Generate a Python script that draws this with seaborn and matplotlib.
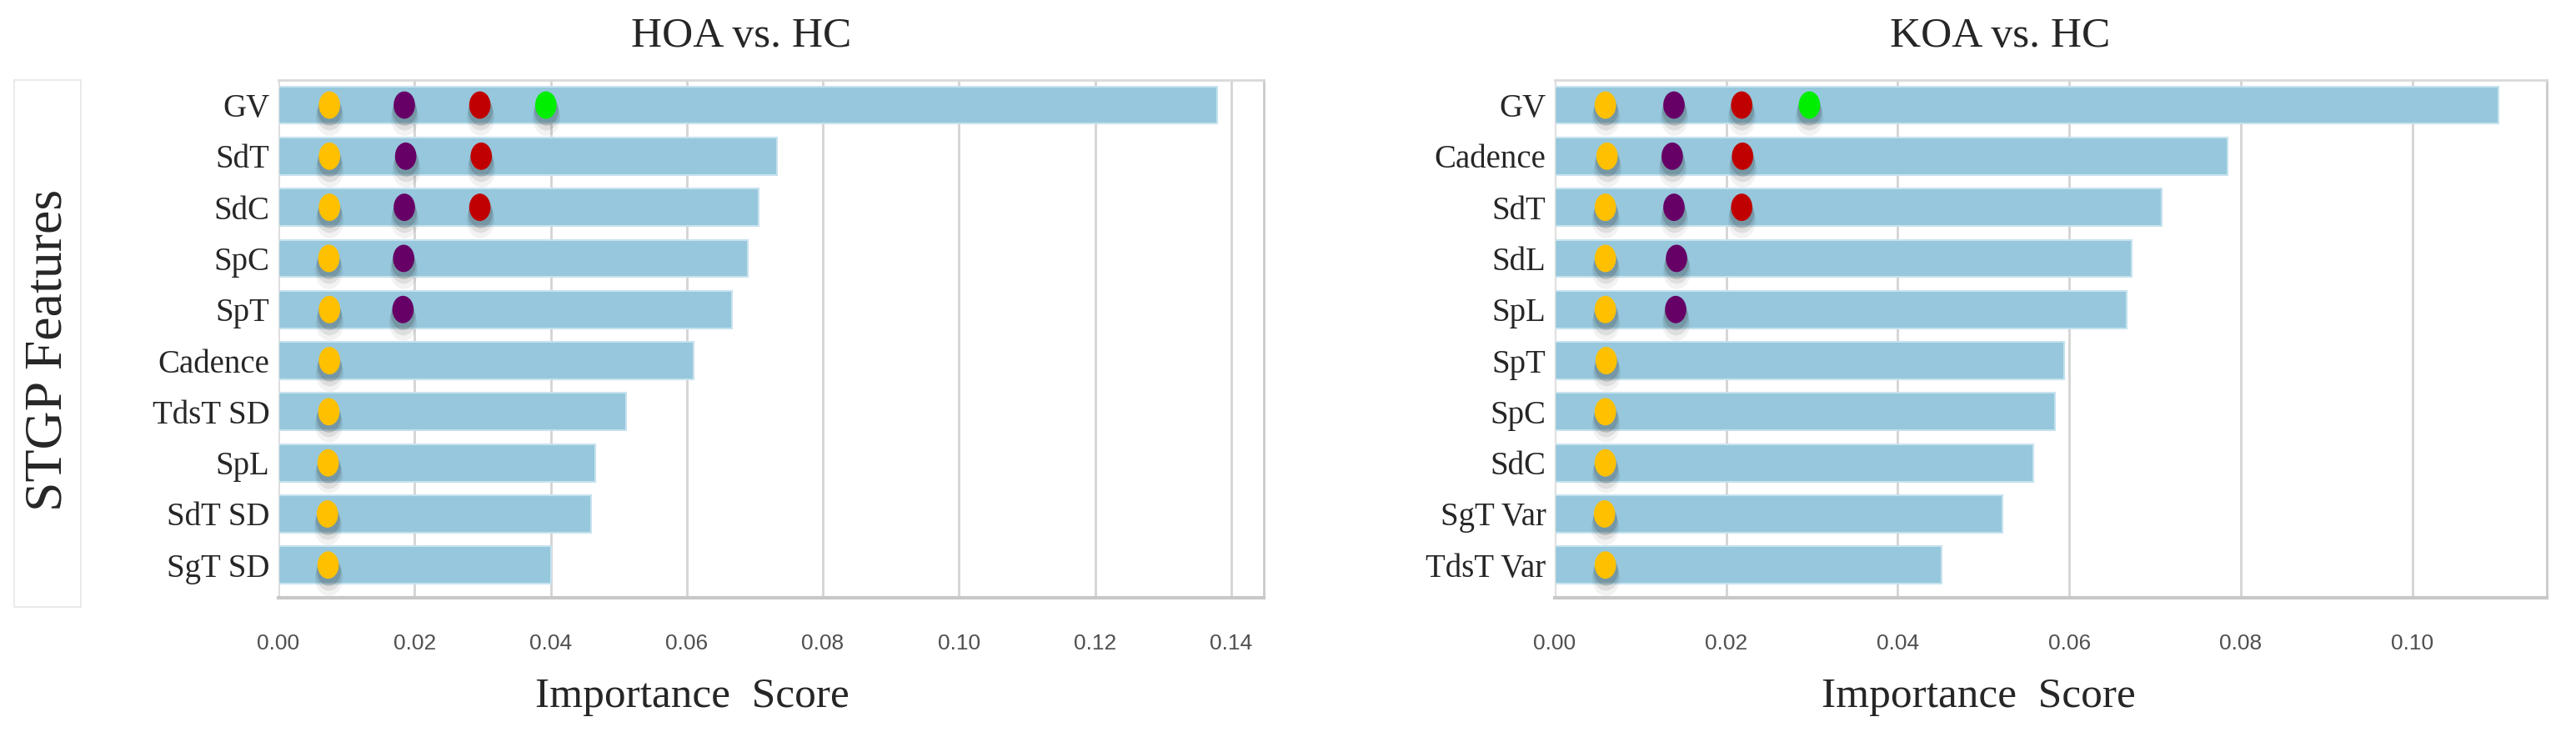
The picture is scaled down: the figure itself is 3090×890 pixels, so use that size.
"""Feature importance bars for HOA vs. HC and KOA vs. HC, with marker dots per feature."""

import matplotlib
matplotlib.use("Agg")
import matplotlib.pyplot as plt
import numpy as np
import pandas as pd
import seaborn as sns
from matplotlib import font_manager
from matplotlib.patches import Rectangle
from matplotlib.path import Path
from matplotlib.transforms import Affine2D

# ---- data -------------------------------------------------------------
HOA_FEATURES = ["GV", "SdT", "SdC", "SpC", "SpT", "Cadence", "TdsT SD", "SpL", "SdT SD", "SgT SD"]
HOA_SCORES = [0.138, 0.0732, 0.0706, 0.0690, 0.0667, 0.0610, 0.0511, 0.0465, 0.0460, 0.0400]

KOA_FEATURES = ["GV", "Cadence", "SdT", "SdL", "SpL", "SpT", "SpC", "SdC", "SgT Var", "TdsT Var"]
KOA_SCORES = [0.1101, 0.0785, 0.0708, 0.0673, 0.0667, 0.0594, 0.0583, 0.0558, 0.0522, 0.0451]

# dots: feature, x position, dot group
HOA_DOT_FEATURE = (HOA_FEATURES
                   + ["GV", "SdT", "SdC", "SpC", "SpT"]
                   + ["GV", "SdT", "SdC"]
                   + ["GV"])
HOA_DOT_X = ([0.0075, 0.0075, 0.0075, 0.0074, 0.0075, 0.0075, 0.0074, 0.0073, 0.0072, 0.0073]
             + [0.0185, 0.0187, 0.0185, 0.0184, 0.0183]
             + [0.0296, 0.0298, 0.0296]
             + [0.0393])
HOA_DOT_GROUP = ["1"] * 10 + ["2"] * 5 + ["3"] * 3 + ["4"]

KOA_DOT_FEATURE = (KOA_FEATURES
                   + ["GV", "Cadence", "SdT", "SdL", "SpL"]
                   + ["GV", "Cadence", "SdT"]
                   + ["GV"])
KOA_DOT_X = ([0.0059, 0.0061, 0.0059, 0.0059, 0.0059, 0.0060, 0.0059, 0.0059, 0.0058, 0.0059]
             + [0.0139, 0.0137, 0.0139, 0.0142, 0.0141]
             + [0.0218, 0.0219, 0.0218]
             + [0.0297])
KOA_DOT_GROUP = ["1"] * 10 + ["2"] * 5 + ["3"] * 3 + ["4"]

DOT_COLORS = {"1": "#FFC000", "2": "#660066", "3": "#C00000", "4": "#00EE00"}
BAR_COLOR = "#96C7DC"

sns.set_theme(style="white")
SERIF = ["Liberation Serif", "DejaVu Serif"]
installed = {f.name for f in font_manager.fontManager.ttflist}
if "Liberation Sans Narrow" in installed:
    TICK_FONT, TICK_SIZE = "Liberation Sans Narrow", 22
else:
    TICK_FONT, TICK_SIZE = "Liberation Sans", 19
plt.rcParams["font.family"] = SERIF

ELLIPSE = Path.unit_circle().transformed(Affine2D().scale(0.78, 1.0))


def draw_panel(ax, features, scores, dot_feature, dot_x, dot_group, xmax, title,
               title_x, xlabel_x, ticks):
    sns.barplot(x=scores, y=features, orient="h", color=BAR_COLOR, width=0.73,
                saturation=1, edgecolor="#C6E2EE", linewidth=1.5, ax=ax, zorder=2)

    pos = {f: i for i, f in enumerate(features)}
    dots = pd.DataFrame({"feature": dot_feature, "x": dot_x, "group": dot_group})
    dots["pos"] = dots["feature"].map(pos)

    # soft shadow under every dot
    for dy, size, alpha in [(0.10, 700, 0.18), (0.17, 820, 0.10), (0.25, 950, 0.06)]:
        sns.scatterplot(x=dots["x"], y=dots["pos"] + dy, color="#303030", marker=ELLIPSE,
                        s=size, alpha=alpha, linewidth=0, legend=False, ax=ax, zorder=3)
    sns.scatterplot(data=dots, x="x", y="pos", hue="group", palette=DOT_COLORS,
                    marker=ELLIPSE, s=560, linewidth=0, legend=False, ax=ax, zorder=4)

    ax.set_xlim(0, xmax)
    ax.set_ylim(9.64, -0.49)
    ax.set_xticks(ticks)
    ax.set_xticklabels([f"{t:.2f}" for t in ticks], family=TICK_FONT, fontsize=TICK_SIZE,
                       color="#505050")
    ax.set_yticks(range(len(features)))
    ax.set_yticklabels(features, fontsize=28, family=SERIF)
    ax.tick_params(axis="x", length=0, pad=31)
    ax.tick_params(axis="y", length=0, pad=7.5)

    ax.grid(axis="x", color="#D4D4D4", linewidth=2)
    ax.grid(axis="y", visible=False)
    ax.set_axisbelow(True)

    ax.spines["top"].set_color("#D9D9D9")
    ax.spines["top"].set_linewidth(2)
    ax.spines["right"].set_color("#CACACA")
    ax.spines["right"].set_linewidth(2)
    ax.spines["bottom"].set_color("#C8C8C8")
    ax.spines["bottom"].set_linewidth(3)
    ax.spines["left"].set_color("#E4E4E4")
    ax.spines["left"].set_linewidth(1)

    ax.set_xlabel("Importance  Score", fontsize=37, family=SERIF)
    ax.xaxis.set_label_coords(xlabel_x, -0.192)
    ax.xaxis.label.set_va("center")
    ax.set_ylabel("")
    ax.text(title_x, 1.084, title, transform=ax.transAxes, ha="center", va="center",
            fontsize=37, family=SERIF)


fig = plt.figure(figsize=(30.9, 8.9), dpi=100)
ax_l = fig.add_axes([334 / 3090, 1 - 717 / 890, 1182 / 3090, 621 / 890])
ax_r = fig.add_axes([1865 / 3090, 1 - 717 / 890, 1190 / 3090, 621 / 890])

draw_panel(ax_l, HOA_FEATURES, HOA_SCORES, HOA_DOT_FEATURE, HOA_DOT_X, HOA_DOT_GROUP,
           0.1448, "HOA vs. HC", 0.4695, 0.42, np.arange(0, 0.141, 0.02))
draw_panel(ax_r, KOA_FEATURES, KOA_SCORES, KOA_DOT_FEATURE, KOA_DOT_X, KOA_DOT_GROUP,
           0.1157, "KOA vs. HC", 0.449, 0.427, np.arange(0, 0.101, 0.02))

ax_l.set_ylabel("STGP Features", fontsize=46, family=SERIF)
ax_l.yaxis.set_label_coords(-0.233, 0.478)
ax_l.yaxis.label.set_va("center")
fig.patches.append(Rectangle((17 / 3090, 1 - 728 / 890), 80 / 3090, 632 / 890,
                             transform=fig.transFigure, fill=False,
                             edgecolor="#E6E6E6", linewidth=1.2))

fig.savefig("out.png", dpi=100)
plt.close(fig)
